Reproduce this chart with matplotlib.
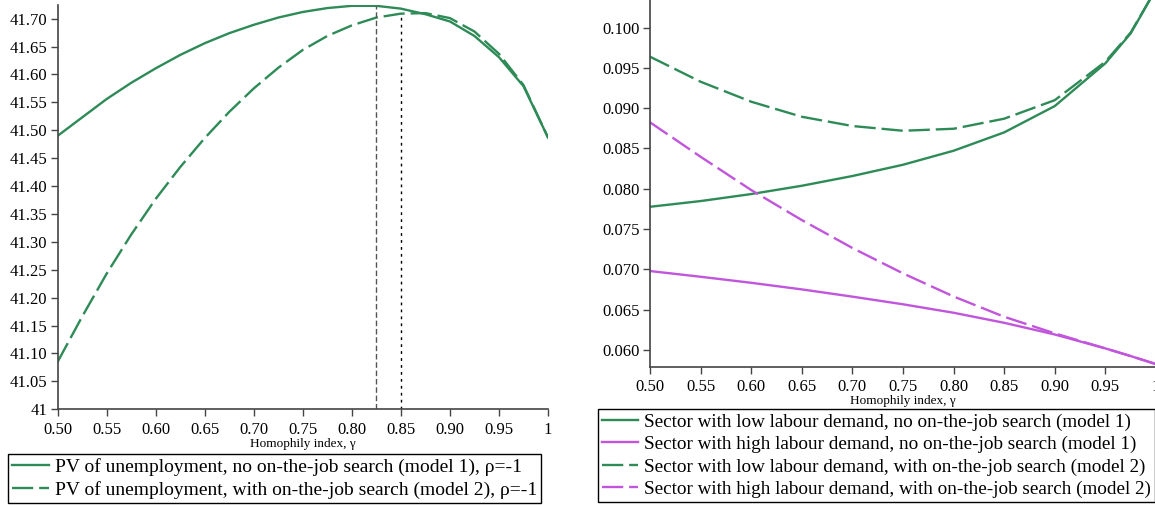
import numpy as np
import matplotlib.pyplot as plt
from matplotlib.ticker import FuncFormatter

plt.rcParams['font.family'] = ['Liberation Serif', 'DejaVu Serif']

# homophily grid (left panel)
gamma = [0.50, 0.525, 0.55, 0.575, 0.60, 0.625, 0.65, 0.675, 0.70, 0.725, 0.75, 0.775,
         0.80, 0.825, 0.85, 0.875, 0.90, 0.925, 0.95, 0.975, 1.00]

# left panel: PV of unemployment
pv_m1 = [41.490, 41.523, 41.556, 41.585, 41.611, 41.635, 41.656, 41.674, 41.689, 41.702,
         41.712, 41.719, 41.723, 41.723, 41.718, 41.708, 41.695, 41.669, 41.631, 41.579, 41.487]
pv_m2 = [41.085, 41.166, 41.243, 41.313, 41.377, 41.434, 41.486, 41.533, 41.575, 41.612,
         41.644, 41.669, 41.688, 41.702, 41.709, 41.710, 41.701, 41.677, 41.637, 41.581, 41.487]
peak_x = [0.825, 0.85]
peak_y = [41.723, 41.709]

# right panel
gamma_r = [0.50, 0.55, 0.60, 0.65, 0.70, 0.75, 0.80, 0.85, 0.90, 0.95, 0.975, 1.00]
low_m1 = [0.07776, 0.07847, 0.07934, 0.08037, 0.08158, 0.08298, 0.08472, 0.08700, 0.09027, 0.09558, 0.09930, 0.10480]
high_m1 = [0.06978, 0.06907, 0.06832, 0.06750, 0.06660, 0.06565, 0.06460, 0.06335, 0.06190, 0.06017, 0.05922, 0.05822]
low_m2 = [0.09640, 0.09329, 0.09081, 0.08894, 0.08779, 0.08720, 0.08745, 0.08870, 0.09100, 0.09578, 0.09940, 0.10480]
high_m2 = [0.08825, 0.08397, 0.07984, 0.07611, 0.07264, 0.06949, 0.06662, 0.06410, 0.06204, 0.06017, 0.05922, 0.05822]

green = '#2e8b57'
purple = '#c155dc'
dash = (9, 2.5)
lw = 1.7

W, H = 1155, 505
fig = plt.figure(figsize=(W / 100, H / 100), dpi=100)


def px_axes(x0, y0, x1, y1):
    return fig.add_axes([x0 / W, 1 - y1 / H, (x1 - x0) / W, (y1 - y0) / H])


def style(ax):
    for s in ['top', 'right']:
        ax.spines[s].set_visible(False)
    for s in ['left', 'bottom']:
        ax.spines[s].set_color('#444444')
        ax.spines[s].set_linewidth(1.2)
    ax.tick_params(direction='out', length=5, width=1, color='#444444', labelsize=12)
    ax.tick_params(axis='x', pad=4)
    ax.tick_params(axis='y', pad=2.5)
    ax.set_xlim(0.5, 1.0)
    ax.set_xticks(np.arange(0.5, 1.001, 0.05))
    ax.xaxis.set_major_formatter(FuncFormatter(lambda v, p: '1' if abs(v - 1) < 1e-9 else f'{v:.2f}'))
    ax.set_xlabel('Homophily index, γ', fontsize=9.5, labelpad=0)


def legend(handles, labels, x, y, size):
    leg = fig.legend(handles, labels, loc='lower left', bbox_to_anchor=(x / W, y / H),
                     fontsize=size, frameon=True, fancybox=False, edgecolor='black',
                     framealpha=1, handlelength=1.9, handletextpad=0.3, labelspacing=0.26,
                     borderpad=0.2, borderaxespad=0)
    leg.get_frame().set_linewidth(1)
    return leg


ax1 = px_axes(57.6, 5, 548, 409.3)
style(ax1)
l1, = ax1.plot(gamma, pv_m1, color=green, lw=lw)
l2, = ax1.plot(gamma, pv_m2, color=green, lw=lw, dashes=dash)
ax1.vlines(peak_x[0], 41, peak_y[0], color='#555555', lw=1, linestyles=(0, (4, 2)))
ax1.vlines(peak_x[1], 41, peak_y[1], color='black', lw=1, linestyles=(0, (2, 3)))
ax1.set_ylim(41.0, 41.7245)
ax1.set_yticks(np.arange(41.0, 41.701, 0.05))
ax1.yaxis.set_major_formatter(FuncFormatter(lambda v, p: '41' if abs(v - 41) < 1e-9 else f'{v:.2f}'))

legend([l1, l2],
       ['PV of unemployment, no on-the-job search (model 1), ρ=-1',
        'PV of unemployment, with on-the-job search (model 2), ρ=-1'], 8, 2, 14)

ax2 = px_axes(650, 0, 1156, 366.7)
style(ax2)
r1, = ax2.plot(gamma_r, low_m1, color=green, lw=lw)
r2, = ax2.plot(gamma_r, high_m1, color=purple, lw=lw)
r3, = ax2.plot(gamma_r, low_m2, color=green, lw=lw, dashes=dash)
r4, = ax2.plot(gamma_r, high_m2, color=purple, lw=lw, dashes=dash)
ax2.set_ylim(0.0579, 0.10344)
ax2.set_yticks(np.arange(0.060, 0.1001, 0.005))
ax2.yaxis.set_major_formatter(FuncFormatter(lambda v, p: f'{v:.3f}'))

legend([r1, r2, r3, r4],
       ['Sector with low labour demand, no on-the-job search (model 1)',
        'Sector with high labour demand, no on-the-job search (model 1)',
        'Sector with low labour demand, with on-the-job search (model 2)',
        'Sector with high labour demand, with on-the-job search (model 2)'], 598, 3, 13.8)

fig.savefig('out.png', dpi=100)
